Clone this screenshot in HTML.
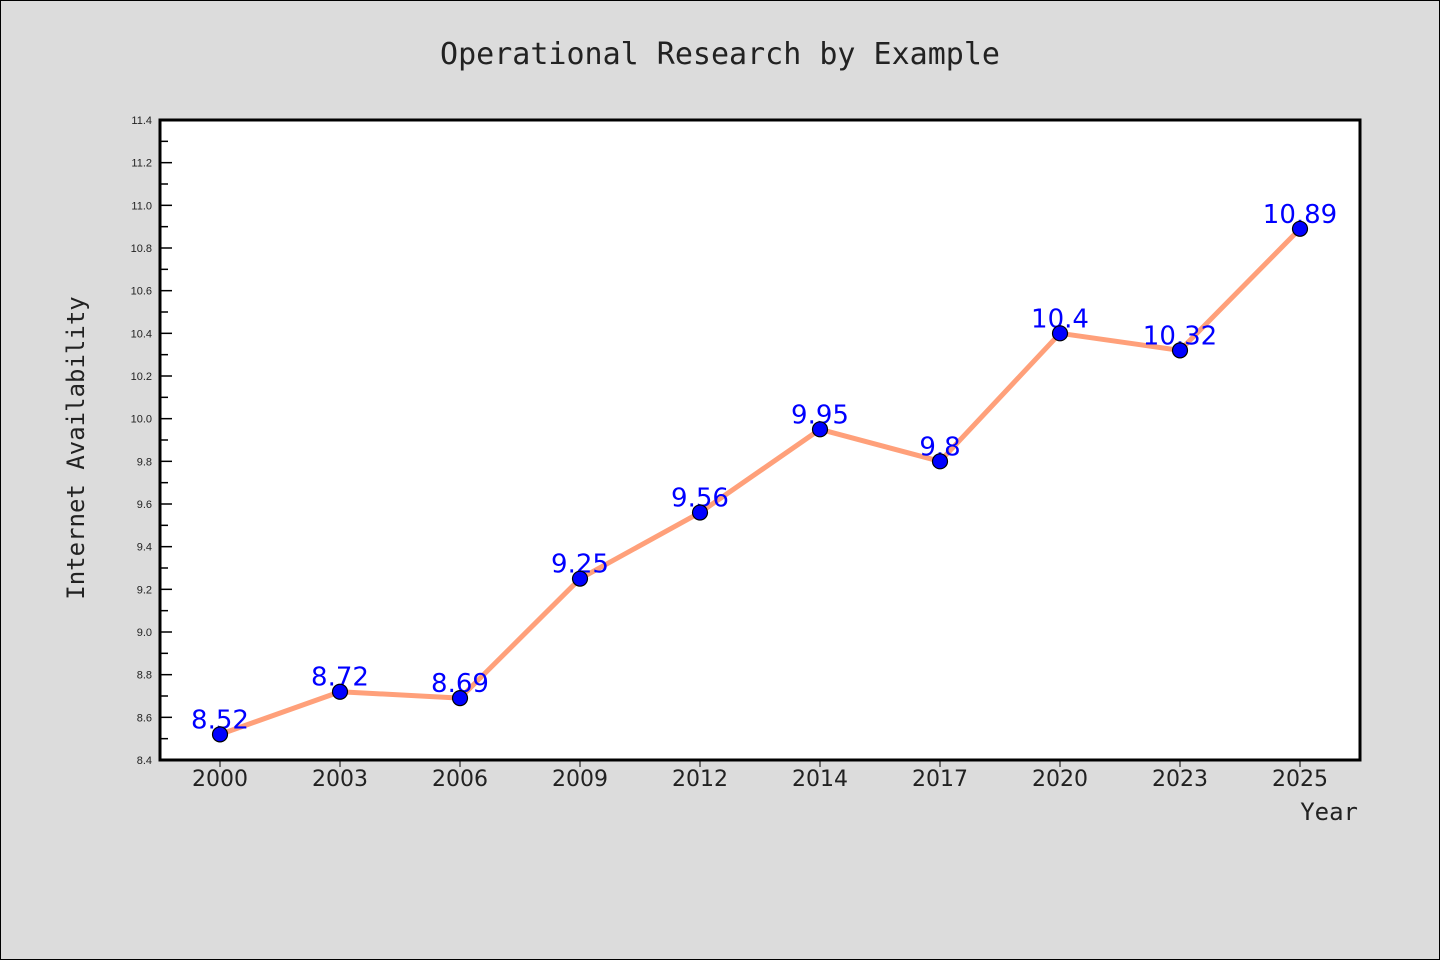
<!DOCTYPE html>
<html><head><meta charset="utf-8"><style>
body{margin:0;background:#dcdcdc;}
svg{display:block;}
</style></head><body>
<svg width="1440" height="960" xmlns="http://www.w3.org/2000/svg">
<rect x="0.5" y="0.5" width="1439" height="959" fill="#dcdcdc" stroke="#000"/>
<text x="720" y="64" text-anchor="middle" font-family="'WenQuanYi Zen Hei Mono','DejaVu Sans Mono',monospace" font-size="30" fill="#222">Operational Research by Example</text>
<rect x="160" y="120" width="1200" height="640" fill="#fff"/>
<g id="yticks"></g>
<g id="xticks"></g>
<g id="series"></g>
<rect x="160" y="120" width="1200" height="640" fill="none" stroke="#000" stroke-width="3"/>
<text transform="translate(84,448) rotate(-90)" text-anchor="middle" font-family="'WenQuanYi Zen Hei Mono','DejaVu Sans Mono',monospace" font-size="24" fill="#222">Internet Availability</text>
<text x="1358" y="820" text-anchor="end" font-family="'WenQuanYi Zen Hei Mono','DejaVu Sans Mono',monospace" font-size="24" fill="#222">Year</text>
</svg>
<script>
const categories=["2000","2003","2006","2009","2012","2014","2017","2020","2023","2025"];
const values=[8.52,8.72,8.69,9.25,9.56,9.95,9.8,10.4,10.32,10.89];
const valueLabels=["8.52","8.72","8.69","9.25","9.56","9.95","9.8","10.4","10.32","10.89"];
const yTickLabels=["8.4","8.6","8.8","9.0","9.2","9.4","9.6","9.8","10.0","10.2","10.4","10.6","10.8","11.0","11.2","11.4"];
const NS="http://www.w3.org/2000/svg";
const yMin=8.4,yMax=11.4,plotTop=120,plotBot=760,plotLeft=160,plotRight=1360;
const yScale=v=>plotBot-(v-yMin)/(yMax-yMin)*(plotBot-plotTop);
const xScale=i=>plotLeft+(plotRight-plotLeft)/categories.length*(i+0.5);
function mk(t,a,p){const e=document.createElementNS(NS,t);for(const k in a)e.setAttribute(k,a[k]);p.appendChild(e);return e;}
const yg=document.getElementById('yticks');
for(let k=0;k<=30;k++){const v=yMin+k*0.1;const major=k%2===0;
 const l=mk('line',{x1:plotLeft,x2:plotLeft+(major?12:8),y1:yScale(v),y2:yScale(v),stroke:'#000','stroke-width':1.5},yg);
 
 }
yTickLabels.forEach(s=>{const t=mk('text',{x:plotLeft-8,y:yScale(parseFloat(s))+4,'text-anchor':'end','font-family':'Liberation Sans, sans-serif','font-size':11,fill:'#222'},yg);t.textContent=s;
 
 });
const xg=document.getElementById('xticks');
categories.forEach((c,i)=>{const l=mk('line',{x1:xScale(i),x2:xScale(i),y1:plotBot,y2:plotBot+7,stroke:'#000','stroke-width':1},xg);
 
 
 const t=mk('text',{x:xScale(i),y:plotBot+26,'text-anchor':'middle','font-family':'DejaVu Sans, sans-serif','font-size':22,fill:'#222'},xg);t.textContent=c;
 
 });
const sg=document.getElementById('series');
const pl=mk('polyline',{points:values.map((v,i)=>xScale(i)+','+yScale(v)).join(' '),fill:'none',stroke:'#ffa07a','stroke-width':5,'stroke-linejoin':'round'},sg);


values.forEach((v,i)=>{
 const t=mk('text',{x:xScale(i),y:yScale(v)-6,'text-anchor':'middle','font-family':'DejaVu Sans, sans-serif','font-size':26,fill:'#0000ff'},sg);t.textContent=valueLabels[i];
 
 
 const c=mk('circle',{cx:xScale(i),cy:yScale(v),r:7.5,fill:'#0000ff',stroke:'#000','stroke-width':1.2},sg);
 
 
});
</script>
</body></html>
